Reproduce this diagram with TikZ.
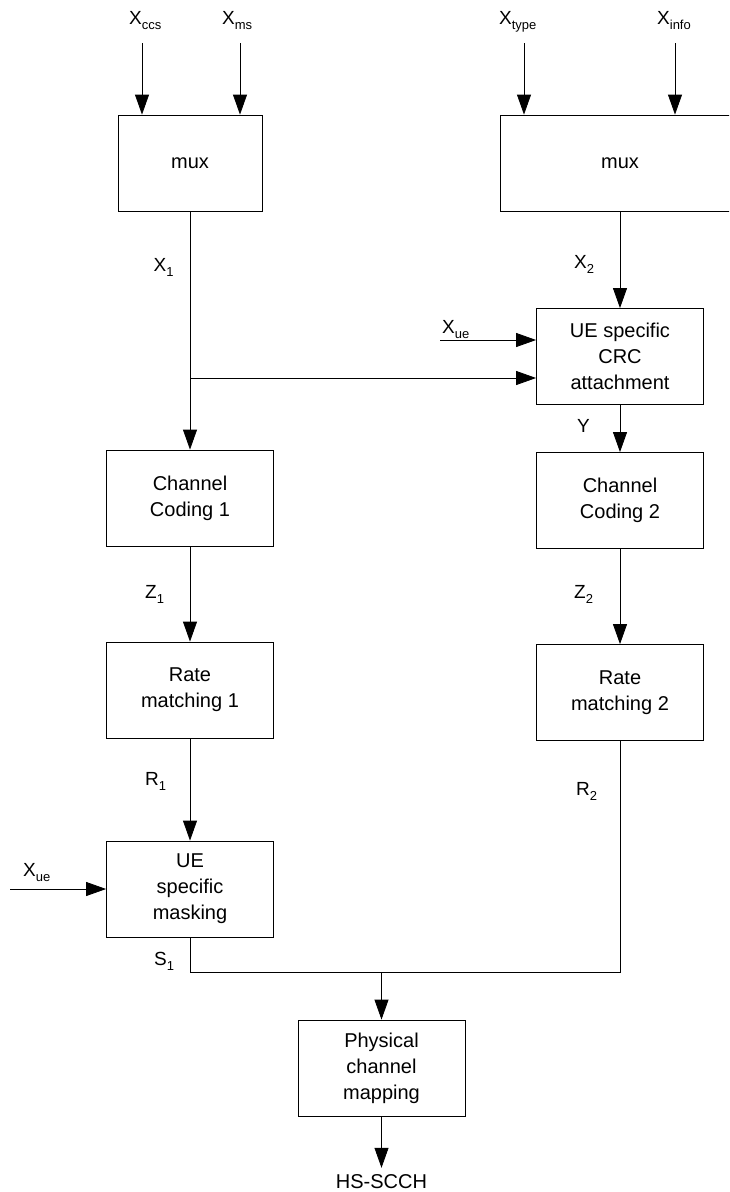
\documentclass[tikz,border=0pt]{standalone}
\usepackage{fontspec}
\setmainfont{Liberation Sans}
\usetikzlibrary{arrows.meta}
\newcommand\sbs[1]{\raisebox{-5pt}{\fontsize{13}{13}\selectfont #1}}
\begin{document}
\begin{tikzpicture}[x=1pt,y=-1pt,
  box/.style={draw, line width=0.8pt, minimum width=167pt, minimum height=96pt, align=center, inner sep=0pt, font=\fontsize{20}{26}\selectfont},
  arr/.style={-{Triangle[length=20pt,width=14pt]}, line width=0.8pt},
  ln/.style={line width=0.8pt},
  lab/.style={inner sep=0pt, anchor=base west, font=\fontsize{19}{22}\selectfont}]
\useasboundingbox (0,0) rectangle (729,1192);
\clip (0,0) rectangle (729,1192);
% boxes
\node[box, minimum width=144pt] (mux1) at (190,163) {mux};
\node[box, minimum width=240pt] (mux2) at (620,163) {mux};
\node[box] (crc) at (620,356.5) {UE specific\\CRC\\attachment};
\node[box] (cc1) at (190,498) {Channel\\Coding 1};
\node[box] (cc2) at (620,500.5) {Channel\\Coding 2};
\node[box] (rm1) at (190,690) {Rate\\matching 1};
\node[box] (rm2) at (620,692.5) {Rate\\matching 2};
\node[box] (mask) at (190,889) {UE\\specific\\masking};
\node[box] (phys) at (381.5,1068) {Physical\\channel\\mapping};
% input coordinates
\coordinate (ccs) at (142,43);
\coordinate (ms) at (240,43);
\coordinate (type) at (524,43);
\coordinate (info) at (675,43);
\coordinate (br) at (190,378);
\coordinate (ue1) at (440,340);
\coordinate (ue2) at (10,889);
\coordinate (j1) at (190,972);
\coordinate (j2) at (620,972);
\coordinate (jm) at (381.5,972);
% connectors
\draw[arr] (ccs) -- (ccs |- mux1.north);
\draw[arr] (ms) -- (ms |- mux1.north);
\draw[arr] (type) -- (type |- mux2.north);
\draw[arr] (info) -- (info |- mux2.north);
\draw[arr] (mux1.south) -- (cc1.north);
\draw[arr] (br) -- (br -| crc.west);
\draw[arr] (ue1) -- (ue1 -| crc.west);
\draw[arr] (mux2.south) -- (crc.north);
\draw[arr] (crc.south) -- (cc2.north);
\draw[arr] (cc1.south) -- (rm1.north);
\draw[arr] (cc2.south) -- (rm2.north);
\draw[arr] (rm1.south) -- (mask.north);
\draw[arr] (ue2) -- (mask.west);
\draw[ln] (mask.south) -- (j1) -- (j2) -- (rm2.south);
\draw[arr] (jm) -- (phys.north);
\node[inner sep=0pt, anchor=base, font=\fontsize{20}{24}\selectfont] (hs) at (381.5,1188) {HS-SCCH};
\draw[arr] (phys.south) -- ([yshift=6pt]hs.north);
% labels
\node[lab] (lccs) at (129,24) {X\sbs{ccs}};
\node[lab] (lms) at (222,24) {X\sbs{ms}};
\node[lab] (ltype) at (499,24) {X\sbs{type}};
\node[lab] (linfo) at (657,24) {X\sbs{info}};
\node[lab] (lx1) at (153.5,271) {X\sbs{1}};
\node[lab] (lx2) at (574,268) {X\sbs{2}};
\node[lab] (lue1) at (442,333) {X\sbs{ue}};
\node[lab] (ly) at (577,432) {Y};
\node[lab] (lz1) at (145,598) {Z\sbs{1}};
\node[lab] (lz2) at (574,598) {Z\sbs{2}};
\node[lab] (lr1) at (145,785) {R\sbs{1}};
\node[lab] (lr2) at (576,795) {R\sbs{2}};
\node[lab] (lue2) at (23,876) {X\sbs{ue}};
\node[lab] (ls1) at (154,965) {S\sbs{1}};
\end{tikzpicture}
\end{document}
